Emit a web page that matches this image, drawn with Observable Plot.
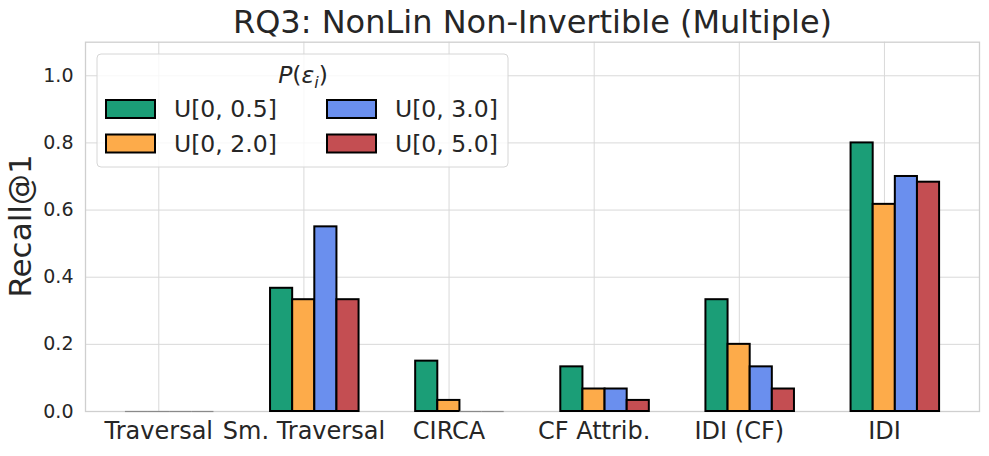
<!DOCTYPE html>
<html>
<head>
<meta charset="utf-8">
<script src="https://cdn.jsdelivr.net/npm/d3@7"></script>
<script src="https://cdn.jsdelivr.net/npm/@observablehq/plot@0.6"></script>
<style>
  html, body { margin: 0; padding: 0; background: white; }
  #chart { width: 989px; height: 456px; }
</style>
</head>
<body>
<div id="chart"></div>
<script>
// ---- data ----
const categories = ["Traversal", "Sm. Traversal", "CIRCA", "CF Attrib.", "IDI (CF)", "IDI"];
const seriesNames = ["U[0, 0.5]", "U[0, 2.0]", "U[0, 3.0]", "U[0, 5.0]"];
const u05 = [0, 0.367, 0.150, 0.133, 0.333, 0.800];
const u20 = [0, 0.333, 0.033, 0.067, 0.200, 0.617];
const u30 = [0, 0.550, 0.000, 0.067, 0.133, 0.700];
const u50 = [0, 0.333, 0.000, 0.033, 0.067, 0.683];
const yTicks = [0, 0.2, 0.4, 0.6, 0.8, 1.0];
const titleText = "RQ3: NonLin Non-Invertible (Multiple)";
const yLabel = "Recall@1";

// ---- style / layout ----
const seriesColors = ["#1b9e77", "#fdab4a", "#6a8fee", "#c44e52"];
const barStart = -0.23;   // left edge of first bar relative to category center
const barWidth = 0.1525;  // bar width in category units
const seriesValues = [u05, u20, u30, u50];

const rows = [];
seriesValues.forEach((vals, k) => {
  vals.forEach((v, i) => {
    rows.push({
      category: categories[i],
      series: seriesNames[k],
      value: v,
      x1: i + barStart + k * barWidth,
      x2: i + barStart + (k + 1) * barWidth
    });
  });
});

const catIdx = d3.range(categories.length);
const gridColor = "#d9d9d9";

const plot = Plot.plot({
  width: 989,
  height: 456,
  marginTop: 41.7,
  marginBottom: 45,
  marginLeft: 85,
  marginRight: 10,
  x: {domain: [-0.505, 5.655]},
  y: {domain: [0, 1.1]},
  color: {domain: seriesNames, range: seriesColors},
  style: {fontFamily: "DejaVu Sans", color: "#262626", background: "white", overflow: "visible"},
  marks: [
    Plot.gridX(catIdx, {stroke: gridColor, strokeOpacity: 1, strokeWidth: 1}),
    Plot.gridY(yTicks, {stroke: gridColor, strokeOpacity: 1, strokeWidth: 1}),
    Plot.frame({stroke: "#cfcfcf", strokeWidth: 1.3}),
    Plot.rect(rows.filter(d => d.value > 0), {
      x1: "x1", x2: "x2", y1: 0, y2: "value",
      fill: "series", stroke: "black", strokeWidth: 2
    }),
    Plot.ruleY(rows.filter(d => d.value === 0), {
      x1: "x1", x2: "x2", y: 0, stroke: "#8a8a8a", strokeWidth: 1.2
    }),
    Plot.axisX(catIdx, {
      tickSize: 0, tickPadding: 10, label: null,
      tickFormat: i => categories[i], fontSize: 24
    }),
    Plot.axisY(yTicks, {
      tickSize: 0, tickPadding: 12, label: null,
      tickFormat: d3.format(".1f"), fontSize: 19
    }),
    Plot.text([titleText], {
      text: d => d, frameAnchor: "top", lineAnchor: "bottom", dy: -9, fontSize: 32, fill: "#262626"
    })
  ]
});

document.getElementById("chart").appendChild(plot);

const svg = d3.select(plot);

// ---- y label ----
svg.append("text")
  .attr("transform", "translate(31,226) rotate(-90)")
  .attr("text-anchor", "middle")
  .attr("font-family", "DejaVu Sans")
  .attr("font-size", 31)
  .attr("fill", "#262626")
  .text(yLabel);

// ---- legend ----
const lg = svg.append("g").attr("font-family", "DejaVu Sans").attr("fill", "#262626");
lg.append("rect")
  .attr("x", 97).attr("y", 54).attr("width", 411).attr("height", 113)
  .attr("rx", 4).attr("ry", 4)
  .attr("fill", "white").attr("fill-opacity", 0.8)
  .attr("stroke", "#d6d6d6").attr("stroke-width", 1);

const lt = lg.append("text")
  .attr("x", 303).attr("y", 83)
  .attr("text-anchor", "middle")
  .attr("font-size", 23.5);
lt.append("tspan").attr("font-style", "italic").text("P");
lt.append("tspan").text("(");
lt.append("tspan").attr("font-style", "italic").text("ε");
lt.append("tspan").attr("font-style", "italic").attr("font-size", 16).attr("dy", 5).text("i");
lt.append("tspan").attr("dy", -5).text(")");

const cols = [{px: 106, tx: 175}, {px: 327, tx: 396}];
const rowsY = [{py: 100, ty: 117}, {py: 134.5, ty: 152}];
seriesNames.forEach((name, k) => {
  const c = cols[Math.floor(k / 2)];
  const r = rowsY[k % 2];
  lg.append("rect")
    .attr("x", c.px).attr("y", r.py).attr("width", 49).attr("height", 18)
    .attr("fill", seriesColors[k]).attr("stroke", "black").attr("stroke-width", 2);
  lg.append("text")
    .attr("x", c.tx - 1).attr("y", r.ty)
    .attr("text-anchor", "start")
    .attr("font-size", 23.5)
    .text(name);
});
</script>
</body>
</html>
